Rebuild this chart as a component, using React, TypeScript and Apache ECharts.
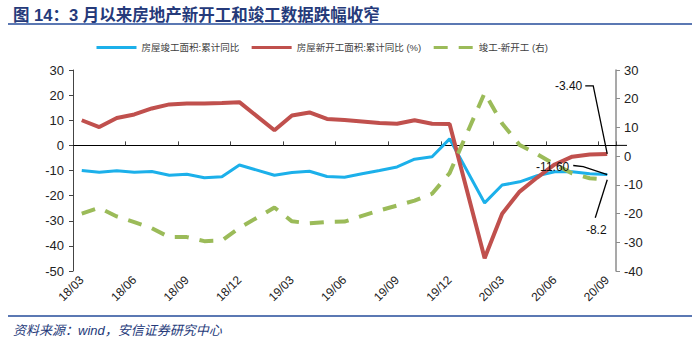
import React, { useEffect, useRef } from 'react';
import * as echarts from 'echarts';

const categories = [
  '18/03', '18/04', '18/05', '18/06', '18/07', '18/08', '18/09', '18/10', '18/11', '18/12',
  '19/01', '19/02', '19/03', '19/04', '19/05', '19/06', '19/07', '19/08', '19/09', '19/10', '19/11', '19/12',
  '20/01', '20/02', '20/03', '20/04', '20/05', '20/06', '20/07', '20/08', '20/09',
];

// 房屋竣工面积:累计同比 (left axis)
const completionYoY = [
  -10.0, -10.7, -10.1, -10.7, -10.4, -11.9, -11.5, -12.9, -12.5, -7.8,
  null, -11.9, -10.8, -10.3, -12.4, -12.7, -11.3, -10.0, -8.6, -5.5, -4.5, 2.6,
  null, -22.9, -15.8, -14.5, -12.1, -10.5, -10.5, -11.3, -11.6,
];

// 房屋新开工面积:累计同比 (left axis)
const newStartYoY = [
  10.0, 7.3, 10.9, 12.3, 14.7, 16.3, 16.7, 16.7, 16.9, 17.2,
  null, 6.0, 11.9, 13.1, 10.5, 10.1, 9.5, 8.9, 8.6, 10.0, 8.6, 8.5,
  null, -44.9, -27.2, -18.4, -12.8, -7.6, -4.5, -3.6, -3.4,
];

// 竣工-新开工 (right axis)
const gapRight = [
  -20.0, -18.0, -21.0, -23.0, -25.1, -28.2, -28.2, -29.6, -29.4, -25.0,
  null, -17.9, -22.7, -23.4, -22.9, -22.8, -20.8, -18.9, -17.2, -15.5, -13.1, -5.9,
  null, 22.0, 11.4, 3.9, 0.7, -2.9, -6.0, -7.7, -8.2,
];

const seriesNames = ['房屋竣工面积:累计同比', '房屋新开工面积:累计同比 (%)', '竣工-新开工 (右)'];
const titleText = '图 14：3 月以来房地产新开工和竣工数据跌幅收窄';
const sourceText = '资料来源：wind，安信证券研究中心';
const annotationTexts = ['-3.40', '-11.60', '-8.2'];

const FONT = 'Liberation Sans, Arial, "Noto Sans CJK SC", sans-serif';
const NAVY = '#253A7A';

export default function App() {
  const ref = useRef<HTMLDivElement>(null);

  useEffect(() => {
    document.body.style.margin = '0';
    const chart = echarts.init(ref.current!, null, { renderer: 'svg' });
    const option: any = {
      animation: false,
      backgroundColor: '#ffffff',
      title: [
        {
          text: titleText,
          left: 8,
          top: 2,
          textStyle: { color: NAVY, fontSize: 16.5, fontWeight: 'bold', fontFamily: FONT },
        },
        {
          text: sourceText,
          left: 8,
          top: 319,
          textStyle: { color: NAVY, fontSize: 13, fontStyle: 'italic', fontWeight: 'normal', fontFamily: FONT },
        },
      ],
      legend: {
        data: seriesNames,
        left: 90,
        top: 37,
        itemWidth: 40,
        itemHeight: 14,
        itemGap: 11,
        itemStyle: { opacity: 0 },
        lineStyle: { width: 3 },
        textStyle: { color: '#404040', fontSize: 9.5, fontFamily: FONT },
      },
      grid: { left: 73, right: 76, top: 70, bottom: 71, containLabel: false },
      xAxis: [
        {
          type: 'category',
          data: categories,
          position: 'bottom',
          boundaryGap: true,
          axisLine: { show: false, onZero: false },
          axisTick: { show: false },
          axisLabel: { interval: 2, rotate: 45, fontSize: 12, color: '#222', margin: 7, fontFamily: FONT },
          splitLine: { show: false },
        },
        {
          type: 'category',
          data: categories,
          position: 'top',
          boundaryGap: true,
          axisLine: { show: true, onZero: true, onZeroAxisIndex: 0, lineStyle: { color: '#000', width: 1 } },
          axisTick: { show: true, interval: 2, length: 4, alignWithLabel: false, lineStyle: { color: '#444' } },
          axisLabel: { show: false },
          splitLine: { show: false },
        },
      ],
      yAxis: [
        {
          type: 'value',
          min: -50,
          max: 30,
          interval: 10,
          position: 'left',
          axisLine: { show: true, lineStyle: { color: '#444', width: 1 } },
          axisTick: { show: true, length: 4, lineStyle: { color: '#444' } },
          axisLabel: { fontSize: 13, color: '#222', margin: 9, fontFamily: FONT },
          splitLine: { show: false },
        },
        {
          type: 'value',
          min: -40,
          max: 30,
          interval: 10,
          position: 'right',
          axisLine: { show: true, lineStyle: { color: '#8c8c8c', width: 1.5 } },
          axisTick: { show: true, length: 4, lineStyle: { color: '#8c8c8c' } },
          axisLabel: { fontSize: 13, color: '#222', margin: 8, fontFamily: FONT },
          splitLine: { show: false },
        },
      ],
      series: [
        {
          name: seriesNames[0],
          type: 'line',
          xAxisIndex: 0,
          yAxisIndex: 0,
          data: completionYoY,
          connectNulls: true,
          symbol: 'none',
          lineStyle: { color: '#1CB0EA', width: 3 },
          itemStyle: { color: '#1CB0EA' },
        },
        {
          name: seriesNames[1],
          type: 'line',
          xAxisIndex: 0,
          yAxisIndex: 0,
          data: newStartYoY,
          connectNulls: true,
          symbol: 'none',
          lineStyle: { color: '#C0504D', width: 4 },
          itemStyle: { color: '#C0504D' },
        },
        {
          name: seriesNames[2],
          type: 'line',
          xAxisIndex: 0,
          yAxisIndex: 1,
          data: gapRight,
          connectNulls: true,
          symbol: 'none',
          lineStyle: { color: '#9BBB59', width: 4, type: [14, 11] },
          itemStyle: { color: '#9BBB59' },
        },
      ],
    };
    chart.setOption(option);

    const last = categories.length - 1;
    const pr = chart.convertToPixel({ xAxisIndex: 0, yAxisIndex: 0 }, [last, newStartYoY[last]]) as number[];
    const pb = chart.convertToPixel({ xAxisIndex: 0, yAxisIndex: 0 }, [last, completionYoY[last]]) as number[];
    const pg = chart.convertToPixel({ xAxisIndex: 0, yAxisIndex: 1 }, [last, gapRight[last]]) as number[];
    const z0 = chart.convertToPixel({ xAxisIndex: 0, yAxisIndex: 0 }, [last, 0]) as number[];

    const txt = (text: string, x: number, y: number, align: string) => ({
      type: 'text',
      x,
      y,
      z: 100,
      style: {
        text,
        fill: '#111',
        font: `12px ${FONT}`,
        align,
        verticalAlign: 'middle',
        textAlign: align,
        textVerticalAlign: 'middle',
      },
    });
    const leader = (pts: number[][]) => ({
      type: 'polyline',
      z: 100,
      shape: { points: pts },
      style: { stroke: '#000', lineWidth: 1.3, fill: null },
    });

    chart.setOption({
      graphic: [
        { type: 'line', shape: { x1: 8, y1: 24, x2: 692, y2: 24 }, style: { stroke: '#5B78B3', lineWidth: 2 } },
        { type: 'line', shape: { x1: 8, y1: 316, x2: 692, y2: 316 }, style: { stroke: '#5B78B3', lineWidth: 2 } },
        { type: 'line', z: 50, shape: { x1: 616, y1: z0[1], x2: 627, y2: z0[1] }, style: { stroke: '#000', lineWidth: 1 } },
        leader([[pr[0] - 22, pr[1] - 68], [pr[0] - 14, pr[1] - 68], [pr[0], pr[1]]]),
        txt(annotationTexts[0], pr[0] - 25, pr[1] - 68, 'right'),
        leader([[pb[0] - 34, pb[1] - 9], [pb[0] - 24, pb[1] - 8], [pb[0], pb[1]]]),
        txt(annotationTexts[1], pb[0] - 38, pb[1] - 8, 'right'),
        leader([[pg[0] - 12, pg[1] + 38], [pg[0], pg[1]]]),
        txt(annotationTexts[2], pg[0] - 11, pg[1] + 50, 'center'),
      ],
    });

    return () => chart.dispose();
  }, []);

  return (
    <div
      ref={ref}
      style={{ position: 'fixed', left: 0, top: 0, width: 692, height: 342, background: '#fff' }}
    />
  );
}
